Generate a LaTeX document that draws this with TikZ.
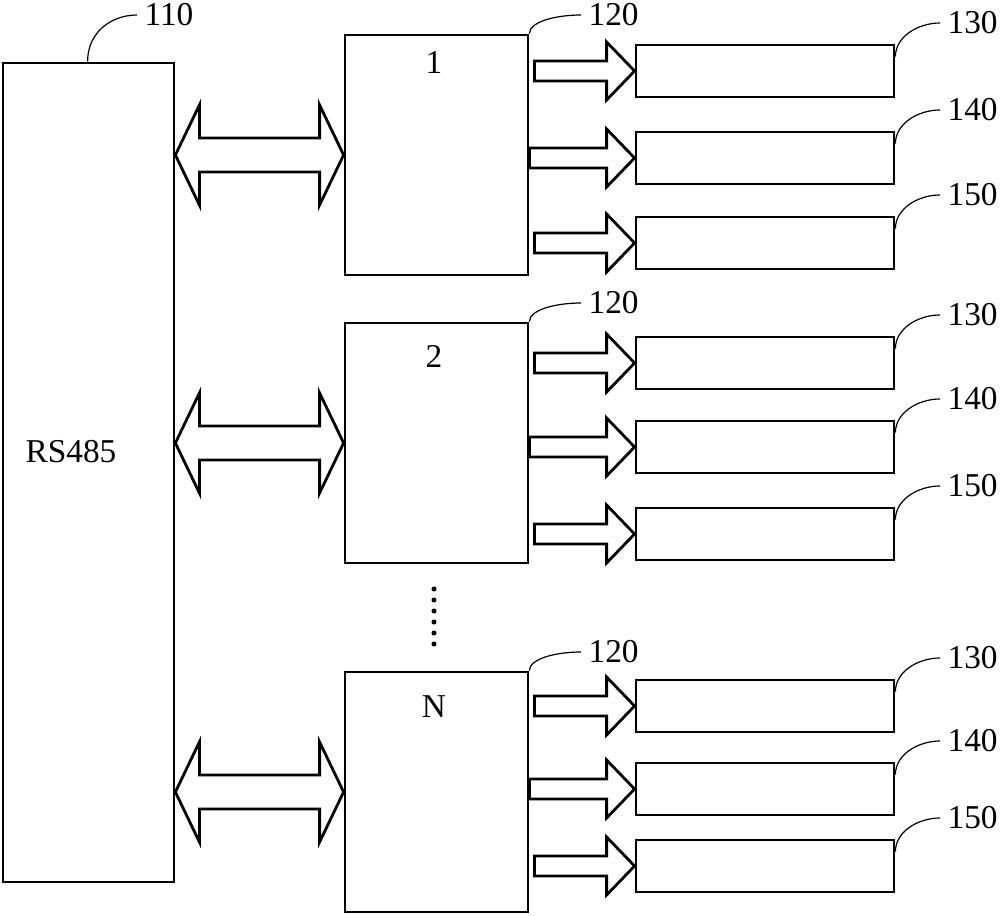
\documentclass[tikz,border=0pt]{standalone}
\usepackage{fontspec}
\setmainfont{Liberation Serif}
\usetikzlibrary{calc,fit}
\newcommand\sarrow[2]{\draw[arr] let \p1=(#1), \p2=(#2) in
  (\x1,\y2+7.5pt) -- (\x2-21pt,\y2+7.5pt) -- (\x2-21pt,\y2+21.75pt) -- (\x2,\y2)
  -- (\x2-21pt,\y2-21.75pt) -- (\x2-21pt,\y2-7.5pt) -- (\x1,\y2-7.5pt) -- cycle;}
\newcommand\darrow[2]{\draw[arr] let \p1=(#1), \p2=(#2) in
  (\x1,\y2) -- (\x1+18pt,\y2+37.5pt) -- (\x1+18pt,\y2+12.75pt) -- (\x2-18pt,\y2+12.75pt)
  -- (\x2-18pt,\y2+37.5pt) -- (\x2,\y2) -- (\x2-18pt,\y2-37.5pt) -- (\x2-18pt,\y2-12.75pt)
  -- (\x1+18pt,\y2-12.75pt) -- (\x1+18pt,\y2-37.5pt) -- cycle;}
\begin{document}
\begin{tikzpicture}[x=0.75pt,y=-0.75pt,
  blk/.style={draw, line width=2.1pt, inner sep=0pt},
  arr/.style={draw, line width=2.1pt, line join=miter},
  leader/.style={draw, line width=0.9pt},
  num/.style={font=\fontsize{25}{29}\selectfont, anchor=west, inner sep=5.5pt},
  big/.style={font=\fontsize{25}{30}\selectfont, inner sep=0pt}]
\useasboundingbox (0,0) rectangle (1000,915);
\node[blk, fit={(3,63)(174,882)}] (rs) {};
\node[big] (rstext) at (71,452) {RS485};
\node[num] (l110) at (137,15) {110};
\draw[leader] ($(rs.north west)+(86,0)$) .. controls +(0,-30) and +(-25,0) .. (l110.west);
\foreach \g/\yt/\lab/\ya/\yb/\yc/\ly in {1/35/1/45/132/217/62, 2/323/2/337/421/508/356, 3/672/N/680/763/840/707} {
  \node[blk, fit={(345,\yt)(528,\yt+240)}] (m\g) {};
  \node[big] (t\g) at (434,\ly) {\lab};
  \node[num] (k\g) at (581,\yt-20) {120};
  \draw[leader] (m\g.north east) .. controls +(0,-12) and +(-25,0) .. (k\g.west);
  \darrow{rs.east |- m\g.west}{m\g.west}
  \foreach \sx/\tp/\nm in {a/\ya/130, b/\yb/140, c/\yc/150} {
    \node[blk, fit={(636,\tp)(894,\tp+52)}] (\sx\g) {};
    \node[num] (n\sx\g) at (940,\tp-22) {\nm};
    \draw[leader] ($(\sx\g.north east)+(0,13)$) .. controls +(0,-20) and +(-22,0) .. (n\sx\g.west);
  }
  \sarrow{$(m\g.east |- a\g.west)+(5,0)$}{a\g.west}
  \sarrow{m\g.east |- b\g.west}{b\g.west}
  \sarrow{$(m\g.east |- c\g.west)+(5,0)$}{c\g.west}
}
\foreach \k in {0,...,5} \fill (434,589+11*\k) circle (1.9pt);
\end{tikzpicture}
\end{document}
